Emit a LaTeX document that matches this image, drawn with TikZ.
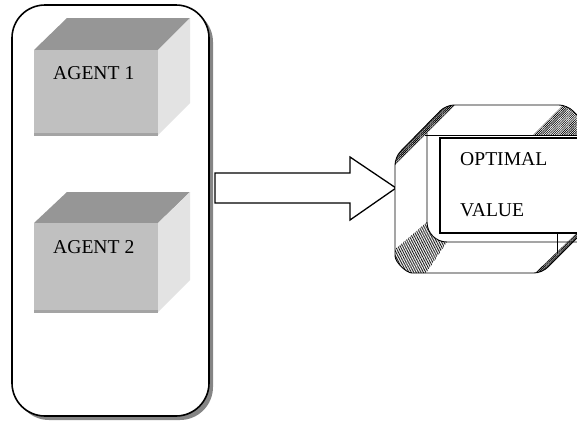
\documentclass[tikz,border=0pt]{standalone}
\usepackage{fontspec}
\setmainfont{Liberation Serif}
\usetikzlibrary{patterns.meta}
\definecolor{cubefront}{HTML}{C0C0C0}
\definecolor{cubetop}{HTML}{969696}
\definecolor{cubeside}{HTML}{E3E3E3}
\definecolor{cubeedge}{HTML}{A4A4A4}
\definecolor{shadowgray}{HTML}{858585}
\begin{document}
\begin{tikzpicture}[x=1pt,y=-1pt,
  lbl/.style={anchor=base west, inner sep=0pt, font=\fontsize{19.6}{23}\selectfont},
  panelline/.style={line width=1.6pt},
  arrowline/.style={line width=1.3pt, fill=white, line join=miter},
  bevline/.style={line width=0.9pt},
  darkhatch/.style={pattern={Lines[angle=45,distance=1.3pt,line width=0.85pt]}},
  lighthatch/.style={pattern={Lines[angle=45,distance=1.6pt,line width=0.65pt]}},
  steephatch/.style={pattern={Lines[angle=70,distance=1.6pt,line width=0.6pt]}}]
\useasboundingbox (0,0) rectangle (577,421);
\clip (0,0) rectangle (577,421);

% ---------- left panel ----------
\fill[shadowgray, rounded corners=33pt] (16,9) rectangle (213,420);
\draw[panelline, fill=white, rounded corners=33pt] (12,5) rectangle (209,416);

% ---------- agent 1 cube ----------
\fill[cubetop] (34,50) -- (67,18) -- (190,18) -- (158,50) -- cycle;
\fill[cubeside] (158,50) -- (190,18) -- (190,103) -- (158,135) -- cycle;
\fill[cubefront] (34,50) rectangle (158,135);
\fill[cubeedge] (34,133) rectangle (158,136);
\node[lbl] (a1) at (53,79) {AGENT 1};

% ---------- agent 2 cube ----------
\fill[cubetop] (34,223) -- (67,192) -- (190,192) -- (158,223) -- cycle;
\fill[cubeside] (158,223) -- (190,192) -- (190,280) -- (158,312) -- cycle;
\fill[cubefront] (34,223) rectangle (158,312);
\fill[cubeedge] (34,310) rectangle (158,313);
\node[lbl] (a2) at (53,253) {AGENT 2};

% ---------- block arrow ----------
\coordinate (tip) at (396,188);
\draw[arrowline] (215,173) -- (350,173) -- (350,157) -- (tip) -- (350,220) -- (350,203) -- (215,203) -- cycle;

% ---------- bevel shape ----------
\def\bevout{(395,248) -- (395,157) -- (446,105) -- (567,105) -- (620,158) -- (620,195) -- (542,273) -- (420,273) arc[start angle=90,end angle=180,radius=25] -- cycle}
\fill[white, rounded corners=8pt] \bevout;
\begin{scope}
  \clip[rounded corners=8pt] \bevout;
  \fill[darkhatch] (385,175) -- (458,102) -- (380,102) -- cycle;
  \fill[lighthatch] (533,135) -- (566,102) -- (600,100) -- (600,135) -- cycle;
  \fill[darkhatch] (530,278) -- (582,228) -- (600,228) -- (600,280) -- cycle;
  \fill[steephatch] (385,258) -- (427,222) arc[start angle=180,end angle=90,radius=20] -- (424,276) -- (385,276) -- cycle;
\end{scope}
\draw[bevline, rounded corners=8pt] \bevout;
\draw[bevline] (427,133) -- (427,222) arc[start angle=180,end angle=90,radius=20] -- (590,242);
\draw[bevline] (425,135) -- (590,135);
\draw[bevline] (557,233) -- (557,253);
\draw[line width=1.6pt] (440,138) rectangle (600,233);
\node[lbl] (opt) at (460,165) {OPTIMAL};
\node[lbl] (val) at (460,216) {VALUE};
\end{tikzpicture}
\end{document}
